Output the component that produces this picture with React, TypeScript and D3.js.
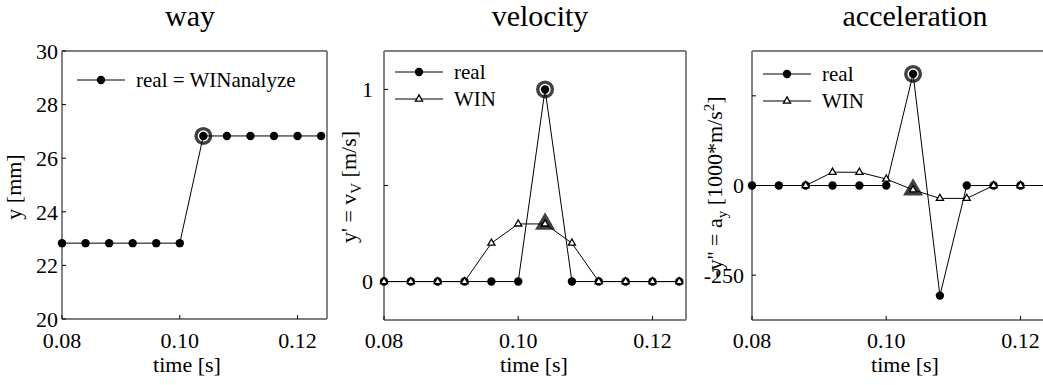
import * as d3 from "d3";

// sample times (s)
const times = [0.08, 0.084, 0.088, 0.092, 0.096, 0.1, 0.104, 0.108, 0.112, 0.116, 0.12, 0.124];

// way [mm]
const wayReal = [22.83, 22.83, 22.83, 22.83, 22.83, 22.83, 26.83, 26.83, 26.83, 26.83, 26.83, 26.83];

// velocity [m/s]
const velReal = [0, 0, 0, 0, 0, 0, 1, 0, 0, 0, 0, 0];
const velWin = [0, 0, 0, 0, 0.2, 0.3, 0.3, 0.2, 0, 0, 0, 0];

// acceleration [1000*m/s^2]
const accReal = [0, 0, 0, 0, 0, 0, 311, -307, 0, 0, 0, 0];
const accWin = [null, null, 0, 37, 37, 18, -12, -36, -36, 0, 0, 0];

const timeTicks = [0.08, 0.1, 0.12];
const timeTickLabels = ["0.08", "0.10", "0.12"];
const wayTicks = [20, 22, 24, 26, 28, 30];
const wayTickLabels = ["20", "22", "24", "26", "28", "30"];
const velTicks = [0, 0.5, 1];
const velTickLabels = ["0", "", "1"];
const accTicks = [-250, 0, 250];
const accTickLabels = ["-250", "0", ""];

const highlightIdx = 6; // t = 0.104

const FONT = "'Liberation Serif', 'Times New Roman', serif";
const TOP = 51;

type Series = { values: (number | null)[]; kind: "dot" | "tri" };

interface PanelProps {
  left: number;
  right: number;
  bottom: number;
  yDomain: [number, number];
  yTicks: number[];
  yTickLabels: string[];
  tickGap: number;
  series: Series[];
  title: string;
  titleX: number;
  xLabelX: number;
  yLabelX: number;
  yLabel: React.ReactNode;
  legend: { label: string; kind: "dot" | "tri" }[];
  legendX: number;
  legendY: number;
}

const tri = d3.symbol().type(d3.symbolTriangle).size(22)();
const bigTri = d3.symbol().type(d3.symbolTriangle).size(175)();

function Marker({ kind, x, y }: { kind: "dot" | "tri"; x: number; y: number }) {
  if (kind === "dot") return <circle cx={x} cy={y} r={4.2} fill="#000" />;
  return <path d={tri || ""} transform={`translate(${x},${y})`} fill="#fff" stroke="#000" strokeWidth={1.3} />;
}

function Panel(p: PanelProps) {
  const x = d3.scaleLinear().domain([0.08, 0.125]).range([p.left, p.right]);
  const y = d3.scaleLinear().domain(p.yDomain).range([p.bottom, TOP]);
  const line = d3
    .line<number | null>()
    .defined(d => d !== null)
    .x((_, i) => x(times[i]))
    .y(d => y(d as number));

  return (
    <g>
      <text x={p.titleX} y={26} textAnchor="middle" fontSize={30} fontFamily={FONT}>{p.title}</text>

      {/* frame */}
      <line x1={p.left} x2={p.right} y1={TOP} y2={TOP} stroke="#000" strokeWidth={1.2} />
      <line x1={p.left} x2={p.right} y1={p.bottom} y2={p.bottom} stroke="#000" strokeWidth={1.2} />
      <line x1={p.left} x2={p.left} y1={TOP} y2={p.bottom} stroke="#777" strokeWidth={1.8} />
      <line x1={p.right} x2={p.right} y1={TOP} y2={p.bottom} stroke="#777" strokeWidth={1.8} />

      {/* y ticks */}
      {p.yTicks.map((t, i) => (
        <g key={"yt" + i}>
          <line x1={p.left} x2={p.left + 4} y1={y(t)} y2={y(t)} stroke="#000" />
          <text x={p.left - p.tickGap} y={y(t)} dy="0.35em" textAnchor="end" fontSize={22} fontFamily={FONT}>
            {p.yTickLabels[i]}
          </text>
        </g>
      ))}

      {/* x ticks */}
      {timeTicks.map((t, i) => (
        <g key={"xt" + i}>
          <line x1={x(t)} x2={x(t)} y1={p.bottom} y2={p.bottom - 4} stroke="#000" />
          <text x={x(t)} y={348} textAnchor="middle" fontSize={22} fontFamily={FONT}>{timeTickLabels[i]}</text>
        </g>
      ))}

      <text x={p.xLabelX} y={372} textAnchor="middle" fontSize={22} fontFamily={FONT}>time [s]</text>
      <text transform={`translate(${p.yLabelX},187) rotate(-90)`} textAnchor="middle" fontSize={22} fontFamily={FONT}>
        {p.yLabel}
      </text>

      {/* highlighted sample */}
      {p.series.map((s, si) => {
        const v = s.values[highlightIdx];
        if (v === null) return null;
        const cx = x(times[highlightIdx]);
        const cy = y(v);
        return s.kind === "dot" ? (
          <g key={"h" + si}>
            <circle cx={cx} cy={cy} r={9} fill="#404040" />
            <circle cx={cx} cy={cy} r={5.6} fill="#fff" />
          </g>
        ) : (
          <path key={"h" + si} d={bigTri || ""} transform={`translate(${cx},${cy})`} fill="#404040" />
        );
      })}

      {/* series */}
      {p.series.map((s, si) => (
        <g key={"s" + si}>
          <path d={line(s.values) || ""} fill="none" stroke="#000" strokeWidth={1} />
          {s.values.map((v, i) =>
            v === null ? null : <Marker key={i} kind={s.kind} x={x(times[i])} y={y(v)} />
          )}
        </g>
      ))}

      {/* legend */}
      {p.legend.map((l, i) => {
        const ly = p.legendY + i * 27;
        return (
          <g key={"l" + i}>
            <line x1={p.legendX} x2={p.legendX + 48} y1={ly} y2={ly} stroke="#000" />
            <Marker kind={l.kind} x={p.legendX + 24} y={ly} />
            <text x={p.legendX + 59} y={ly} dy="0.33em" fontSize={21} fontFamily={FONT}>{l.label}</text>
          </g>
        );
      })}
    </g>
  );
}

export default function App() {
  return (
    <svg width={1043} height={385} style={{ position: "absolute", left: 0, top: 0, background: "#fff" }}>
      <Panel
        left={62}
        right={327}
        bottom={319}
        yDomain={[20, 30]}
        yTicks={wayTicks}
        yTickLabels={wayTickLabels}
        tickGap={4}
        series={[{ values: wayReal, kind: "dot" }]}
        title="way"
        titleX={190}
        xLabelX={187}
        yLabelX={21}
        yLabel={<tspan>y [mm]</tspan>}
        legend={[{ label: "real = WINanalyze", kind: "dot" }]}
        legendX={77}
        legendY={80}
      />
      <Panel
        left={384}
        right={686}
        bottom={320}
        yDomain={[-0.2, 1.2]}
        yTicks={velTicks}
        yTickLabels={velTickLabels}
        tickGap={11}
        series={[
          { values: velReal, kind: "dot" },
          { values: velWin, kind: "tri" },
        ]}
        title="velocity"
        titleX={540}
        xLabelX={534}
        yLabelX={356}
        yLabel={
          <>
            <tspan>y' = v</tspan>
            <tspan dy={5} fontSize={15}>V</tspan>
            <tspan dy={-5}> [m/s]</tspan>
          </>
        }
        legend={[
          { label: "real", kind: "dot" },
          { label: "WIN", kind: "tri" },
        ]}
        legendX={395}
        legendY={72}
      />
      <Panel
        left={752}
        right={1054}
        bottom={320}
        yDomain={[-375, 375]}
        yTicks={accTicks}
        yTickLabels={accTickLabels}
        tickGap={8}
        series={[
          { values: accReal, kind: "dot" },
          { values: accWin, kind: "tri" },
        ]}
        title="acceleration"
        titleX={915}
        xLabelX={905}
        yLabelX={722}
        yLabel={
          <>
            <tspan>-y'' = a</tspan>
            <tspan dy={5} fontSize={15}>y</tspan>
            <tspan dy={-5}> [1000*m/s</tspan>
            <tspan dy={-8} fontSize={15}>2</tspan>
            <tspan dy={8}>]</tspan>
          </>
        }
        legend={[
          { label: "real", kind: "dot" },
          { label: "WIN", kind: "tri" },
        ]}
        legendX={763}
        legendY={74}
      />
    </svg>
  );
}
